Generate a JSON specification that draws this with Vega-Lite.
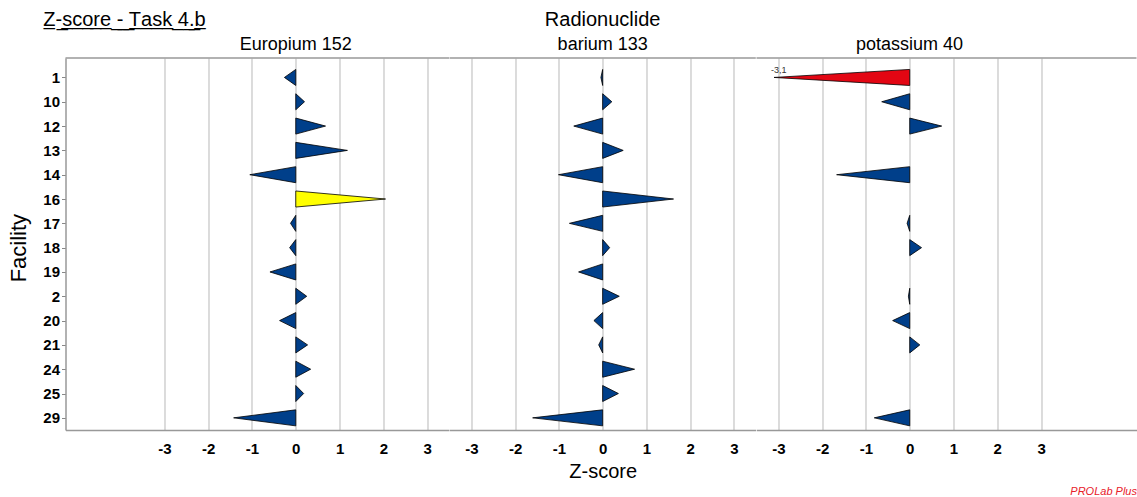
{
  "$schema": "https://vega.github.io/schema/vega-lite/v6.json",
  "padding": {"left": 7.5, "top": 10, "right": 0, "bottom": 5},
  "background": "white",
  "title": {
    "text": "Z\u0332-\u0332s\u0332c\u0332o\u0332r\u0332e\u0332 \u0332-\u0332 \u0332T\u0332a\u0332s\u0332k\u0332 \u03324\u0332.\u0332b\u0332",
    "anchor": "start",
    "fontSize": 20,
    "offset": -20,
    "dx": 35.5
  },
  "data": {
    "values": [
      {"facility": "1", "nuclide": "Europium 152", "z": -0.26},
      {"facility": "10", "nuclide": "Europium 152", "z": 0.2},
      {"facility": "12", "nuclide": "Europium 152", "z": 0.68},
      {"facility": "13", "nuclide": "Europium 152", "z": 1.18},
      {"facility": "14", "nuclide": "Europium 152", "z": -1.05},
      {"facility": "16", "nuclide": "Europium 152", "z": 2.05},
      {"facility": "17", "nuclide": "Europium 152", "z": -0.12},
      {"facility": "18", "nuclide": "Europium 152", "z": -0.14},
      {"facility": "19", "nuclide": "Europium 152", "z": -0.59},
      {"facility": "2", "nuclide": "Europium 152", "z": 0.25},
      {"facility": "20", "nuclide": "Europium 152", "z": -0.37},
      {"facility": "21", "nuclide": "Europium 152", "z": 0.27},
      {"facility": "24", "nuclide": "Europium 152", "z": 0.34},
      {"facility": "25", "nuclide": "Europium 152", "z": 0.18},
      {"facility": "29", "nuclide": "Europium 152", "z": -1.42},
      {"facility": "1", "nuclide": "barium 133", "z": -0.04},
      {"facility": "10", "nuclide": "barium 133", "z": 0.21},
      {"facility": "12", "nuclide": "barium 133", "z": -0.66},
      {"facility": "13", "nuclide": "barium 133", "z": 0.47},
      {"facility": "14", "nuclide": "barium 133", "z": -1.01},
      {"facility": "16", "nuclide": "barium 133", "z": 1.62},
      {"facility": "17", "nuclide": "barium 133", "z": -0.76},
      {"facility": "18", "nuclide": "barium 133", "z": 0.16},
      {"facility": "19", "nuclide": "barium 133", "z": -0.55},
      {"facility": "2", "nuclide": "barium 133", "z": 0.38},
      {"facility": "20", "nuclide": "barium 133", "z": -0.2},
      {"facility": "21", "nuclide": "barium 133", "z": -0.09},
      {"facility": "24", "nuclide": "barium 133", "z": 0.73},
      {"facility": "25", "nuclide": "barium 133", "z": 0.36},
      {"facility": "29", "nuclide": "barium 133", "z": -1.6},
      {"facility": "1", "nuclide": "potassium 40", "z": -3.1},
      {"facility": "10", "nuclide": "potassium 40", "z": -0.64},
      {"facility": "12", "nuclide": "potassium 40", "z": 0.73},
      {"facility": "14", "nuclide": "potassium 40", "z": -1.67},
      {"facility": "17", "nuclide": "potassium 40", "z": -0.06},
      {"facility": "18", "nuclide": "potassium 40", "z": 0.27},
      {"facility": "2", "nuclide": "potassium 40", "z": -0.03},
      {"facility": "20", "nuclide": "potassium 40", "z": -0.39},
      {"facility": "21", "nuclide": "potassium 40", "z": 0.23},
      {"facility": "29", "nuclide": "potassium 40", "z": -0.81}
    ]
  },
  "transform": [
    {"window": [{"op": "dense_rank", "as": "row"}], "sort": [{"field": "facility", "order": "ascending"}]},
    {"calculate": "[0, 1]", "as": "end"},
    {"flatten": ["end"]},
    {"calculate": "datum.end === 0 ? 0 : datum.z", "as": "zx"},
    {"calculate": "datum.end === 0 ? datum.row - 0.33 : datum.row", "as": "y_lo"},
    {"calculate": "datum.end === 0 ? datum.row + 0.33 : datum.row", "as": "y_hi"}
  ],
  "spacing": 0,
  "bounds": "flush",
  "hconcat": [
    {
      "width": 383.5,
      "height": 372,
      "title": {"text": "Europium 152", "fontSize": 18, "offset": 3, "dx": 38.5},
      "transform": [{"filter": "datum.nuclide === 'Europium 152'"}],
      "layer": [
        {
          "mark": {"type": "point", "opacity": 0},
          "encoding": {
            "y": {
              "field": "facility",
              "type": "nominal",
              "scale": {"type": "point", "range": [7.3, 372], "padding": 0.5},
              "axis": {
                "orient": "left",
                "title": "Facility",
                "titleFontSize": 22,
                "titleFontWeight": "normal",
                "titlePadding": 12,
                "labelFontSize": 15,
                "labelFontWeight": "bold",
                "labelPadding": 2,
                "tickSize": 4,
                "tickColor": "#888888",
                "domain": false,
                "grid": false
              }
            }
          }
        },
        {
          "mark": {"type": "area", "orient": "vertical", "stroke": "black", "strokeWidth": 0.8},
          "encoding": {
            "x": {"field": "zx", "type": "quantitative", "scale": {"domain": [-5.26, 3.5], "nice": false, "zero": false}, "axis": {"values": [-3, -2, -1, 0, 1, 2, 3], "title": null}},
            "y": {"field": "y_lo", "type": "quantitative", "scale": {"domain": [0.2, 15.5], "reverse": true, "nice": false, "zero": false},
                  "axis": {"orient": "left", "labels": false, "ticks": false, "grid": false, "title": null, "domain": true}},
            "y2": {"field": "y_hi"},
            "detail": {"field": "facility"},
            "fill": {"condition": [{"test": "abs(datum.z) >= 3", "value": "#e30613"}, {"test": "abs(datum.z) >= 2", "value": "#ffff00"}], "value": "#003f8a"}
          }
        },
        {
          "transform": [{"aggregate": [{"op": "count", "as": "n"}]}],
          "mark": {"type": "rule", "color": "#999999", "strokeWidth": 1.5},
          "encoding": {"y": {"datum": 0.2, "type": "quantitative", "scale": {"domain": [0.2, 15.5], "reverse": true, "nice": false, "zero": false}, "axis": null}}
        }
      ],
      "resolve": {"scale": {"y": "independent"}}
    },
    {
      "width": 306.3,
      "height": 372,
      "title": {"text": "Radionuclide", "subtitle": "barium 133", "fontSize": 20, "subtitleFontSize": 18, "subtitlePadding": 6, "offset": 3},
      "transform": [{"filter": "datum.nuclide === 'barium 133'"}],
      "layer": [
        {
          "mark": {"type": "area", "orient": "vertical", "stroke": "black", "strokeWidth": 0.8},
          "encoding": {
            "x": {"field": "zx", "type": "quantitative", "scale": {"domain": [-3.5, 3.5], "nice": false, "zero": false}, "axis": {"values": [-3, -2, -1, 0, 1, 2, 3], "title": "Z-score", "titleFontSize": 20, "titleFontWeight": "normal", "titlePadding": 5}},
            "y": {"field": "y_lo", "type": "quantitative", "scale": {"domain": [0.2, 15.5], "reverse": true, "nice": false, "zero": false}, "axis": null},
            "y2": {"field": "y_hi"},
            "detail": {"field": "facility"},
            "fill": {"condition": [{"test": "abs(datum.z) >= 3", "value": "#e30613"}, {"test": "abs(datum.z) >= 2", "value": "#ffff00"}], "value": "#003f8a"}
          }
        },
        {
          "transform": [{"aggregate": [{"op": "count", "as": "n"}]}],
          "mark": {"type": "rule", "color": "#999999", "strokeWidth": 1.5},
          "encoding": {"y": {"datum": 0.2, "type": "quantitative"}}
        }
      ]
    },
    {
      "width": 380,
      "height": 372,
      "title": {"text": "potassium 40", "fontSize": 18, "offset": 3, "dx": -37},
      "transform": [{"filter": "datum.nuclide === 'potassium 40'"}],
      "layer": [
        {
          "mark": {"type": "area", "orient": "vertical", "stroke": "black", "strokeWidth": 0.8},
          "encoding": {
            "x": {"field": "zx", "type": "quantitative", "scale": {"domain": [-3.5, 5.18], "nice": false, "zero": false},
                  "axis": {"values": [-3, -2, -1, 0, 1, 2, 3], "title": "PROLab Plus", "titleAnchor": "end", "titleFontSize": 11, "titleFontStyle": "italic", "titleFontWeight": "normal", "titleColor": "#e8202a", "titlePadding": 29}},
            "y": {"field": "y_lo", "type": "quantitative", "scale": {"domain": [0.2, 15.5], "reverse": true, "nice": false, "zero": false}, "axis": null},
            "y2": {"field": "y_hi"},
            "detail": {"field": "facility"},
            "fill": {"condition": [{"test": "abs(datum.z) >= 3", "value": "#e30613"}, {"test": "abs(datum.z) >= 2", "value": "#ffff00"}], "value": "#003f8a"}
          }
        },
        {
          "transform": [{"filter": "datum.end === 1 && abs(datum.z) >= 3"}],
          "mark": {"type": "text", "align": "left", "baseline": "alphabetic", "dx": -3, "dy": -4, "fontSize": 9, "color": "#333333"},
          "encoding": {
            "x": {"field": "z", "type": "quantitative"},
            "y": {"field": "row", "type": "quantitative"},
            "text": {"field": "z", "type": "quantitative", "format": ".1f"}
          }
        },
        {
          "transform": [{"aggregate": [{"op": "count", "as": "n"}]}],
          "mark": {"type": "rule", "color": "#999999", "strokeWidth": 1.5},
          "encoding": {"y": {"datum": 0.2, "type": "quantitative"}}
        }
      ]
    }
  ],
  "config": {
    "font": "Liberation Sans",
    "view": {"stroke": null},
    "locale": {"number": {"decimal": ",", "thousands": ".", "grouping": [3], "currency": ["", " \u20ac"], "minus": "-"}},
    "title": {"font": "Liberation Sans", "fontWeight": "normal", "color": "black", "subtitleFont": "Liberation Sans", "subtitleColor": "black"},
    "axis": {
      "labelFont": "Liberation Sans",
      "titleFont": "Liberation Sans",
      "labelColor": "black",
      "titleColor": "black",
      "domainColor": "#999999",
      "domainWidth": 1.5
    },
    "axisX": {
      "grid": true,
      "gridColor": "#c4c4c4",
      "gridWidth": 1.2,
      "ticks": false,
      "labelFontSize": 15,
      "labelFontWeight": "bold",
      "labelPadding": 11,
      "labelFlush": false,
      "labelOverlap": false
    }
  }
}
